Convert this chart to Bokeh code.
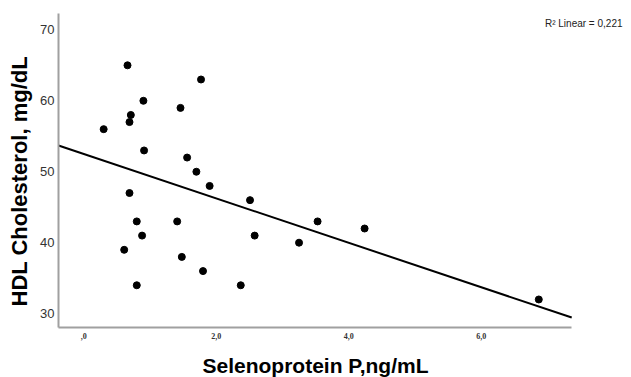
import numpy as np
from bokeh.plotting import figure
from bokeh.models import FixedTicker, Label, Title
from bokeh.embed import file_html
from bokeh.resources import INLINE

# Data
selenoprotein_p = [0.66, 1.77, 0.90, 1.46, 0.71, 0.69, 0.30, 0.91, 1.56, 1.70, 1.90,
                   0.69, 2.51, 0.80, 1.41, 3.53, 0.88, 2.58, 3.25, 0.61, 1.48, 1.80,
                   0.80, 2.37, 4.24, 6.87]
hdl_cholesterol = [65, 63, 60, 59, 58, 57, 56, 53, 52, 50, 48,
                   47, 46, 43, 43, 43, 41, 41, 40, 39, 38, 36,
                   34, 34, 42, 32]
x_ticks = [0, 2, 4, 6]
x_tick_labels = [",0", "2,0", "4,0", "6,0"]
y_ticks = [30, 40, 50, 60, 70]
r2_text = "R\u00b2 Linear = 0,221"
x_title = "Selenoprotein P,ng/mL"
y_title = "HDL Cholesterol, mg/dL"

x_axis_start, x_axis_end = -0.382, 7.367   # extent of the drawn x axis
x_view_end = 8.27                           # room on the right for the R² note
y0, y1 = 28.05, 72.3

p = figure(width=631, height=377, output_backend="svg", toolbar_location=None,
           x_range=(x_axis_start, x_view_end), y_range=(y0, y1))
p.min_border_left = 58
p.min_border_right = 0
p.min_border_top = 13
p.min_border_bottom = 49
p.outline_line_color = None
p.grid.visible = False
p.background_fill_color = "white"
p.border_fill_color = "white"

# regression line fitted to the data
b, a = np.polyfit(selenoprotein_p, hdl_cholesterol, 1)
xs = [x_axis_start, x_axis_end]
ys = [a + b * x for x in xs]
p.line(xs, ys, line_color="black", line_width=2)

p.scatter(selenoprotein_p, hdl_cholesterol, size=7, color="black")

for ax in (p.xaxis[0], p.yaxis[0]):
    ax.axis_line_color = "#a0a0a0"
    ax.axis_line_width = 2
    ax.major_tick_line_color = None
    ax.minor_tick_line_color = None
    ax.major_tick_out = 0
    ax.major_tick_in = 0

p.xaxis.bounds = (x_axis_start, x_axis_end)
p.xaxis.ticker = FixedTicker(ticks=x_ticks)
p.xaxis.major_label_overrides = {t: l for t, l in zip(x_ticks, x_tick_labels)}
p.xaxis.major_label_text_font = "Liberation Serif"
p.xaxis.major_label_text_font_style = "bold"
p.xaxis.major_label_text_font_size = "8px"
p.xaxis.major_label_text_color = "#333333"
p.xaxis.major_label_standoff = 5

p.yaxis.ticker = FixedTicker(ticks=y_ticks)
p.yaxis.major_label_text_font = "Liberation Sans"
p.yaxis.major_label_text_font_size = "13px"
p.yaxis.major_label_text_color = "#333333"
p.yaxis.major_label_standoff = 4

# axis titles (a thin blank spacer pushes the x title down)
p.add_layout(Title(text=" ", text_font_size="1px", standoff=6), "below")
p.add_layout(Title(text=x_title, align="left", offset=144, standoff=2,
                   text_font="Liberation Sans", text_font_style="bold",
                   text_font_size="21px", text_color="black"), "below")
p.add_layout(Title(text=y_title, align="left", offset=21, standoff=10,
                   vertical_align="middle",
                   text_font="Liberation Sans", text_font_style="bold",
                   text_font_size="22px", text_color="black"), "left")

p.add_layout(Label(x=x_view_end, y=y1, x_offset=-9, y_offset=-10, text=r2_text,
                   text_font="Liberation Sans", text_font_size="10px",
                   text_color="#222222", text_align="right", text_baseline="middle"))

open("out.html", "w").write(file_html(p, INLINE))
